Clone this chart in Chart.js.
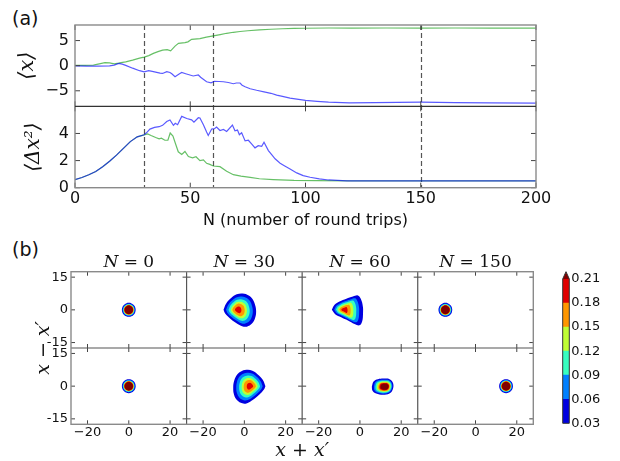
<!DOCTYPE html>
<html>
<head>
<meta charset="utf-8">
<script src="https://cdn.jsdelivr.net/npm/chart.js@4"></script>
<style>
  html, body { margin: 0; padding: 0; background: #fff; }
  #fig { position: relative; width: 620px; height: 461px; overflow: hidden; font-family: "DejaVu Sans", sans-serif; }
  #fig canvas { position: absolute; }
  .tag { position: absolute; font-size: 19px; line-height: 19px; color: #111; }
</style>
</head>
<body>
<div id="fig">
  <div class="tag" style="left:12px;top:9px">(a)</div>
  <div class="tag" style="left:12px;top:240px">(b)</div>
  <canvas id="trace" width="620" height="232" style="left:0;top:0"></canvas>
  <canvas id="maps" width="545" height="231" style="left:0;top:230px"></canvas>
  <canvas id="cbar" width="80" height="231" style="left:540px;top:230px"></canvas>
</div>
<script>
// ---------- (a) mean position and spread versus round trips ----------
const tripsMeanG = [0,4,8,11,13,15,17,19,20,22,25,28,30,32,34,36,38,40,41.5,43.4,44.9,47.7,49,50.6,54.2,57,60,63,65.8,68.7,71.6,75,80,85,90,95,100,110,120,135,150,165,180,200];
const meanG      = [0.05,0.05,0.1,0.4,0.6,0.55,0.35,0.5,0.6,0.75,1.1,1.5,1.7,2.0,2.45,2.8,3.1,3.2,2.95,3.9,4.45,4.6,4.75,5.25,5.4,5.7,5.95,6.2,6.45,6.65,6.8,6.95,7.12,7.25,7.35,7.42,7.45,7.5,7.48,7.5,7.48,7.5,7.47,7.47];

const tripsMeanB = [0,5,10,15,17,19,20.5,22,25,28,30,32,34,36.9,38,39.8,41.2,42,43.4,45,46.3,48,51.3,53.5,54.5,57.1,59,60.5,62.5,64.4,66.5,68.7,70,71.6,72.5,73.8,76,78.8,82,85,87.5,90,93.3,97,100,105,110,119,130,140,150,165,180,200];
const meanB      = [-0.05,-0.1,-0.1,-0.05,0.1,0.45,0.3,0.05,-0.5,-1.0,-1.25,-1.0,-1.2,-1.5,-1.55,-1.2,-1.35,-1.6,-2.2,-1.7,-1.35,-1.6,-2.05,-1.85,-2.3,-3.2,-3.4,-3.1,-3.15,-3.2,-3.35,-3.6,-3.45,-3.45,-3.9,-4.2,-4.6,-4.9,-5.2,-5.5,-5.86,-6.1,-6.46,-6.7,-6.9,-7.1,-7.25,-7.4,-7.35,-7.3,-7.26,-7.35,-7.42,-7.46];

const tripsSpreadG = [0,3,6,9,12,15,18,21,24,27,30,31.5,33,35,36.5,37.5,39,40.3,41.3,42.5,43.5,44.8,46.3,47.7,49.2,51,52.5,54.2,55.7,57.1,58.5,60,62.9,65.8,68.7,72,76,80,86,95,105,120,140,160,180,200];
const spreadG      = [0.6,0.75,0.95,1.2,1.55,1.95,2.4,2.9,3.4,3.75,3.9,3.97,3.85,3.7,3.6,3.65,3.5,3.5,4.03,3.8,3.3,2.65,2.45,2.67,2.3,2.2,2.28,2.0,2.05,1.8,1.72,1.6,1.55,1.22,0.96,0.85,0.76,0.66,0.6,0.54,0.52,0.5,0.5,0.5,0.5,0.5];

const tripsSpreadB = [0,3,6,9,12,15,18,21,24,27,30,31,32.5,34.5,36.5,38,39.8,41.2,42.7,43.5,44.5,46.3,48.5,50.6,51.6,53.5,54.2,55.7,57.1,57.8,59.3,60.5,61.4,62.9,64.4,65.8,68.3,69.4,70.5,71.3,72.3,73.8,75.2,76.7,78.1,79.5,81,82,83.9,85.5,86.8,89,91,93.3,96.2,99,102,106,110,118,130,150,175,200];
const spreadB      = [0.6,0.75,0.95,1.2,1.55,1.95,2.4,2.9,3.4,3.75,3.9,4.05,4.32,4.45,4.5,4.6,4.88,5.0,4.6,4.75,4.65,5.26,5.1,5.0,4.84,5.16,5.14,4.64,4.1,3.85,4.33,4.35,4.47,4.22,4.3,4.15,4.62,4.2,4.25,3.9,4.05,3.45,3.5,3.22,2.94,3.1,3.05,3.35,2.74,2.4,2.13,1.8,1.6,1.38,1.09,0.89,0.77,0.65,0.57,0.51,0.5,0.5,0.5,0.5];

const tripTicks   = [0, 50, 100, 150, 200];
const meanTicks   = [-5, 0, 5];
const spreadTicks = [0, 2, 4];
const snapshotTrips = [30, 60, 150];

// ---------- (b) contour maps at selected round trips ----------
const mapTrips  = [0, 30, 60, 150];
const mapXTicks = [-20, 0, 20];
const mapYTicks = [-15, 0, 15];
const contourLevels = [0.03, 0.06, 0.09, 0.12, 0.15, 0.18, 0.21];
const contourColors = ['#0000e0', '#0080ff', '#37ffc0', '#c0ff33', '#ff9700', '#e00000', '#800000'];

const peaksTop    = [[0, 0], [-3.2, 0], [-7.9, 0], [-14.6, 0]];
const peaksBottom = [[0, 0], [2.8, 0], [12.4, -0.3], [14.8, 0]];

const spotRadius = [3.35, 3.2];
const spotScale  = [1, 0.88, 0.79, 0.73, 0.69, 0.65, 0.61];

const outlineTop30 = [[-10.1,0],[-9.3,-1.7],[-7.2,-3.7],[-4.0,-6.0],[-1.1,-7.5],[1.2,-7.7],[3.7,-6.3],[5.2,-3.7],[5.7,-0.6],[5.2,2.2],[4.1,4.8],[2.1,6.6],[-0.8,7.5],[-3.7,7.1],[-6.4,5.4],[-8.8,2.9]];
const scaleTop30 = [1, 0.82, 0.65, 0.5, 0.38, 0.2];

const outlineBottom30 = [[10.2,0],[9.4,-1.7],[7.3,-3.8],[4.2,-6.2],[1.3,-7.8],[-1.0,-7.9],[-3.5,-6.5],[-5.0,-3.9],[-5.4,-0.6],[-5.0,2.2],[-3.9,4.8],[-1.9,6.6],[1.0,7.5],[3.9,7.1],[6.5,5.4],[8.9,2.9]];
const scaleBottom30 = [1, 0.82, 0.65, 0.5, 0.38, 0.2];

const outlineTop60 = [[-13.6,0],[-12.0,-2.0],[-9.1,-3.4],[-5.8,-4.9],[-2.6,-6.5],[-0.2,-7.1],[1.1,-5.2],[1.5,-1.4],[1.4,1.7],[0.4,5.1],[-1.0,6.6],[-3.4,6.1],[-6.6,5.1],[-9.9,3.8],[-12.3,2.3]];
const scaleTop60 = [1, 0.8, 0.65, 0.5, 0.36, 0.2];

const outlineBottom60 = [[5.76,-0.3],[6.1,-2.15],[7.85,-3.4],[11.1,-4.0],[14.3,-3.4],[15.9,-1.5],[16.1,1.2],[14.6,3.1],[11.9,3.5],[8.7,3.2],[6.6,2.15]];
const scaleBottom60 = [1, 0.85, 0.74, 0.63, 0.53, 0.45, 0.37];

// ---------- helpers ----------
const pairs = (xs, ys) => xs.map((x, i) => ({ x, y: ys[i] }));
const signed = v => (v < 0 ? '\u2212' + Math.abs(v) : String(v));
const BLUE = 'rgba(0,0,255,0.65)';
const GREEN = 'rgba(0,150,0,0.6)';
const TICK_FONT = { family: 'DejaVu Sans', size: 16 };
const INK = '#111';
const NO_GRID = { display: false, drawTicks: false };

function line(ctx, x1, y1, x2, y2) {
  ctx.beginPath(); ctx.moveTo(x1, y1); ctx.lineTo(x2, y2); ctx.stroke();
}

// ---------- chart (a) ----------
const traceFrame = {
  id: 'traceFrame',
  beforeDatasetsDraw(chart) {
    const { ctx, chartArea: a, scales } = chart;
    ctx.save();
    ctx.strokeStyle = '#555';
    ctx.lineWidth = 1.2;
    ctx.setLineDash([5, 3]);
    snapshotTrips.forEach(n => {
      const px = Math.round(scales.x.getPixelForValue(n)) + 0.5;
      line(ctx, px, a.top, px, a.bottom);
    });
    ctx.restore();
  },
  afterDraw(chart) {
    const { ctx, chartArea: a, scales } = chart;
    const up = scales.yMean, low = scales.yVar;
    ctx.save();
    ctx.strokeStyle = '#444';
    ctx.lineWidth = 1;
    const T = 5;
    tripTicks.forEach(n => {
      const px = scales.x.getPixelForValue(n);
      line(ctx, px, up.top, px, up.top + T);
      line(ctx, px, up.bottom, px, up.bottom - T);
      line(ctx, px, low.top, px, low.top + T);
      line(ctx, px, low.bottom, px, low.bottom - T);
    });
    meanTicks.forEach(v => {
      const py = up.getPixelForValue(v);
      line(ctx, a.left, py, a.left + T, py);
      line(ctx, a.right, py, a.right - T, py);
    });
    spreadTicks.forEach(v => {
      const py = low.getPixelForValue(v);
      line(ctx, a.left, py, a.left + T, py);
      line(ctx, a.right, py, a.right - T, py);
    });
    ctx.strokeStyle = '#8a8a8a';
    ctx.lineWidth = 1.4;
    ctx.strokeRect(a.left, a.top, a.right - a.left, a.bottom - a.top);
    ctx.strokeStyle = '#333';
    ctx.lineWidth = 1.2;
    line(ctx, a.left, up.bottom, a.right, up.bottom);
    ctx.restore();
  }
};

const lineStyle = (color) => ({
  showLine: true, borderColor: color, backgroundColor: color, borderWidth: 1.2,
  pointRadius: 0, tension: 0, fill: false
});

new Chart(document.getElementById('trace'), {
  type: 'scatter',
  data: {
    datasets: [
      { label: 'mean, mode 1', data: pairs(tripsMeanB, meanB), yAxisID: 'yMean', ...lineStyle(BLUE) },
      { label: 'mean, mode 2', data: pairs(tripsMeanG, meanG), yAxisID: 'yMean', ...lineStyle(GREEN) },
      { label: 'spread, mode 1', data: pairs(tripsSpreadB, spreadB), yAxisID: 'yVar', ...lineStyle(BLUE) },
      { label: 'spread, mode 2', data: pairs(tripsSpreadG, spreadG), yAxisID: 'yVar', ...lineStyle(GREEN) }
    ]
  },
  options: {
    responsive: false, animation: false, events: [],
    layout: { padding: { top: 25, right: 84, left: 0, bottom: 0 } },
    plugins: { legend: { display: false }, tooltip: { enabled: false } },
    scales: {
      x: {
        type: 'linear', position: 'bottom', min: 0, max: 200,
        grid: NO_GRID, border: { display: false },
        afterBuildTicks: s => { s.ticks = tripTicks.map(v => ({ value: v })); },
        ticks: { autoSkip: false, maxRotation: 0, padding: 1.4, color: INK, font: TICK_FONT, callback: v => signed(v) },
        title: { display: true, text: 'N (number of round trips)', color: INK, font: { family: 'DejaVu Sans', size: 16 }, padding: { top: 0, bottom: 1.4 } },
        afterFit: s => { s.height = 44.3; }
      },
      yVar: {
        type: 'linear', position: 'left', stack: 'trace', stackWeight: 1, min: 0, max: 6,
        grid: NO_GRID, border: { display: false },
        afterBuildTicks: s => { s.ticks = spreadTicks.map(v => ({ value: v })); },
        ticks: { padding: 6, color: INK, font: TICK_FONT, callback: v => signed(v) },
        title: { display: true, text: '\u27E8\u0394x\u00B2\u27E9', color: INK, font: { family: 'DejaVu Serif', size: 20, style: 'italic' }, padding: { top: 22, bottom: 0 } },
        afterFit: s => { s.width = 75; }
      },
      yMean: {
        type: 'linear', position: 'left', stack: 'trace', stackWeight: 1, min: -8.1, max: 8.1,
        grid: NO_GRID, border: { display: false },
        afterBuildTicks: s => { s.ticks = meanTicks.map(v => ({ value: v })); },
        ticks: { padding: 6, color: INK, font: TICK_FONT, callback: v => signed(v) },
        title: { display: true, text: '\u27E8x\u27E9', color: INK, font: { family: 'DejaVu Serif', size: 21, style: 'italic' }, padding: { top: 15, bottom: 0 } },
        afterFit: s => { s.width = 75; }
      }
    }
  },
  plugins: [traceFrame]
});

// ---------- chart (b) ----------
const colIds = ['x0', 'x1', 'x2', 'x3'];
const rowIds = ['yHigh', 'yLow'];

function spotOutline(c) {
  const pts = [];
  for (let i = 0; i < 16; i++) {
    const a = i * Math.PI / 8;
    pts.push([c[0] + spotRadius[0] * Math.cos(a), c[1] + spotRadius[1] * Math.sin(a)]);
  }
  return pts;
}

function ring(peak, outline, f) {
  const pts = outline.map(([x, y]) => ({ x: peak[0] + f * (x - peak[0]), y: peak[1] + f * (y - peak[1]) }));
  pts.push({ ...pts[0] });
  return pts;
}

const mapOutlines = [
  [spotOutline(peaksTop[0]), outlineTop30, outlineTop60, spotOutline(peaksTop[3])],
  [spotOutline(peaksBottom[0]), outlineBottom30, outlineBottom60, spotOutline(peaksBottom[3])]
];
const mapScales = [
  [spotScale, scaleTop30, scaleTop60, spotScale],
  [spotScale, scaleBottom30, scaleBottom60, spotScale]
];
const mapPeaks = [peaksTop, peaksBottom];

const mapDatasets = [];
for (let r = 0; r < 2; r++) {
  for (let c = 0; c < 4; c++) {
    mapScales[r][c].forEach((f, k) => {
      mapDatasets.push({
        label: 'N = ' + mapTrips[c] + ', level ' + contourLevels[k],
        data: ring(mapPeaks[r][c], mapOutlines[r][c], f),
        xAxisID: colIds[c], yAxisID: rowIds[r],
        showLine: true, fill: 'shape', tension: 0.4,
        backgroundColor: contourColors[k], borderColor: 'rgba(0,0,0,0)', borderWidth: 0,
        pointRadius: 0, order: -k
      });
    });
  }
}

const mapFrame = {
  id: 'mapFrame',
  afterDraw(chart) {
    const { ctx, chartArea: a, scales } = chart;
    ctx.save();
    const T = 4;
    ctx.strokeStyle = '#444';
    ctx.lineWidth = 1;
    colIds.forEach(cx => rowIds.forEach(ry => {
      const sx = scales[cx], sy = scales[ry];
      mapXTicks.forEach(v => {
        const px = sx.getPixelForValue(v);
        line(ctx, px, sy.top, px, sy.top + T);
        line(ctx, px, sy.bottom, px, sy.bottom - T);
      });
      mapYTicks.forEach(v => {
        const py = sy.getPixelForValue(v);
        line(ctx, sx.left, py, sx.left + T, py);
        line(ctx, sx.right, py, sx.right - T, py);
      });
    }));
    ctx.strokeStyle = '#555';
    ctx.lineWidth = 1.2;
    colIds.slice(1).forEach(cx => line(ctx, scales[cx].left, a.top, scales[cx].left, a.bottom));
    line(ctx, a.left, scales.yHigh.bottom, a.right, scales.yHigh.bottom);
    ctx.strokeStyle = '#8a8a8a';
    ctx.lineWidth = 1.4;
    ctx.strokeRect(a.left, a.top, a.right - a.left, a.bottom - a.top);

    // column titles
    ctx.fillStyle = INK;
    ctx.textBaseline = 'alphabetic';
    ctx.textAlign = 'left';
    colIds.forEach((cx, c) => {
      const sx = scales[cx];
      const head = 'N', tail = ' = ' + mapTrips[c];
      ctx.font = 'italic 17px "DejaVu Serif"';
      const w1 = ctx.measureText(head).width;
      ctx.font = '17px "DejaVu Serif"';
      const w2 = ctx.measureText(tail).width;
      const x0 = (sx.left + sx.right) / 2 - (w1 + w2) / 2;
      ctx.font = 'italic 17px "DejaVu Serif"';
      ctx.fillText(head, x0, a.top - 5);
      ctx.font = '17px "DejaVu Serif"';
      ctx.fillText(tail, x0 + w1, a.top - 5);
    });

    // axis names
    ctx.font = 'italic 19px "DejaVu Serif"';
    ctx.textAlign = 'center';
    ctx.textBaseline = 'middle';
    ctx.fillText('x + x\u2032', (a.left + a.right) / 2, 221);
    ctx.translate(44, scales.yHigh.bottom);
    ctx.rotate(-Math.PI / 2);
    ctx.fillText('x \u2212 x\u2032', 0, 0);
    ctx.restore();
  }
};

const mapScaleOptions = {};
colIds.forEach(id => {
  mapScaleOptions[id] = {
    type: 'linear', position: 'bottom', stack: 'cols', stackWeight: 1, min: -28, max: 28,
    grid: NO_GRID, border: { display: false },
    afterBuildTicks: s => { s.ticks = mapXTicks.map(v => ({ value: v })); },
    ticks: { autoSkip: false, maxRotation: 0, padding: 1, color: INK, font: { family: 'DejaVu Sans', size: 13 }, callback: v => signed(v) },
    afterFit: s => { s.height = 36.7; }
  };
});
['yLow', 'yHigh'].forEach(id => {
  mapScaleOptions[id] = {
    type: 'linear', position: 'left', stack: 'rows', stackWeight: 1, min: -17.5, max: 17.5,
    grid: NO_GRID, border: { display: false },
    afterBuildTicks: s => { s.ticks = mapYTicks.map(v => ({ value: v })); },
    ticks: { padding: 3, color: INK, font: { family: 'DejaVu Sans', size: 13 }, callback: v => String(v) },
    afterFit: s => { s.width = 71; }
  };
});

new Chart(document.getElementById('maps'), {
  type: 'scatter',
  data: { datasets: mapDatasets },
  options: {
    responsive: false, animation: false, events: [],
    layout: { padding: { top: 41.7, right: 11.7, left: 0, bottom: 0 } },
    plugins: { legend: { display: false }, tooltip: { enabled: false } },
    scales: mapScaleOptions
  },
  plugins: [mapFrame]
});

// ---------- colour bar ----------
const cbarFrame = {
  id: 'cbarFrame',
  afterDatasetsDraw(chart) {
    const { ctx, chartArea: a } = chart;
    const tip = a.top - 7.3;
    const mid = (a.left + a.right) / 2;
    ctx.save();
    ctx.fillStyle = contourColors[6];
    ctx.beginPath();
    ctx.moveTo(a.left, a.top); ctx.lineTo(mid, tip); ctx.lineTo(a.right, a.top); ctx.closePath();
    ctx.fill();
    ctx.strokeStyle = '#333';
    ctx.lineWidth = 1;
    ctx.beginPath();
    ctx.moveTo(a.left, a.bottom); ctx.lineTo(a.left, a.top); ctx.lineTo(mid, tip);
    ctx.lineTo(a.right, a.top); ctx.lineTo(a.right, a.bottom); ctx.closePath();
    ctx.stroke();
    ctx.restore();
  }
};

new Chart(document.getElementById('cbar'), {
  type: 'bar',
  data: {
    labels: [''],
    datasets: contourLevels.slice(0, 6).map((lo, k) => ({
      label: lo.toFixed(2) + '\u2013' + contourLevels[k + 1].toFixed(2),
      data: [[lo, contourLevels[k + 1]]],
      backgroundColor: contourColors[k], borderWidth: 0,
      grouped: false, barPercentage: 1, categoryPercentage: 1
    }))
  },
  options: {
    responsive: false, animation: false, events: [],
    layout: { padding: { top: 49, right: 0, left: 22.7, bottom: 37.7 } },
    plugins: { legend: { display: false }, tooltip: { enabled: false } },
    scales: {
      x: { display: false },
      y: {
        position: 'right', min: 0.03, max: 0.21,
        grid: NO_GRID, border: { display: false },
        afterBuildTicks: s => { s.ticks = contourLevels.map(v => ({ value: v })); },
        ticks: { padding: 2, color: INK, font: { family: 'DejaVu Sans', size: 13 }, callback: v => v.toFixed(2) },
        afterFit: s => { s.width = 50.7; }
      }
    }
  },
  plugins: [cbarFrame]
});
</script>
</body>
</html>
